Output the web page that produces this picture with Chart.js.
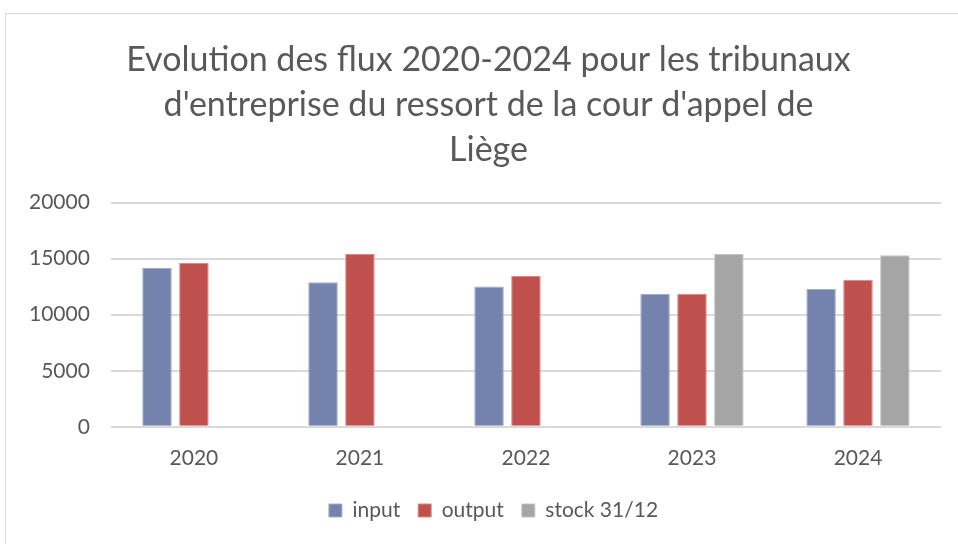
<!DOCTYPE html>
<html>
<head>
<meta charset="utf-8">
<script src="https://cdn.jsdelivr.net/npm/chart.js@4"></script>
<style>
  body { margin: 0; background: #fff; }
  #frame { position: absolute; left: 5px; top: 13px; width: 970px; height: 560px; border: 1px solid #d9d9d9; box-sizing: border-box; }
  #wrap { position: absolute; left: 0; top: 0; width: 958px; height: 544px; }
</style>
</head>
<body>
<div id="frame"></div>
<div id="wrap"><canvas id="fluxChart"></canvas></div>
<script>
const annees = ['2020', '2021', '2022', '2023', '2024'];
const input = [14170, 12890, 12530, 11850, 12300];
const output = [14620, 15420, 13460, 11870, 13130];
const stock = [null, null, null, 15420, 15300];
const titre = [
    'Evolution des flux 2020-2024 pour les tribunaux',
    "d'entreprise du ressort de la cour d'appel de",
    'Liège'
];

const gris = '#595959';
Chart.defaults.font.family = 'Lato, "Open Sans", sans-serif';

function serie(label, data, couleur, bord) {
    return {
        label: label,
        data: data,
        backgroundColor: couleur,
        borderColor: bord,
        borderWidth: 1,
        categoryPercentage: 0.667,
        barPercentage: 0.8
    };
}

// recentre titre et légende sur toute la largeur (comme Excel)
const recentrer = {
    id: 'recentrer',
    afterLayout(chart) {
        if (chart.titleBlock) chart.titleBlock.left += 28;
        if (chart.legend) chart.legend.left += 38;
    }
};

const ctx = document.getElementById('fluxChart').getContext('2d');
new Chart(ctx, {
    type: 'bar',
    data: {
        labels: annees,
        datasets: [
            serie('input', input, '#7483ae', '#a3aeca'),
            serie('output', output, '#c0504d', '#d98a88'),
            serie('stock 31/12', stock, '#a5a5a5', '#c4c4c4')
        ]
    },
    plugins: [recentrer],
    options: {
        responsive: true,
        maintainAspectRatio: false,
        animation: false,
        layout: { padding: { left: 8, right: 17, top: 0, bottom: 13 } },
        plugins: {
            title: {
                display: true,
                text: titre,
                color: gris,
                font: { size: 34, weight: 'normal', lineHeight: 1.33 },
                padding: { top: 37, bottom: 30 }
            },
            legend: {
                position: 'bottom',
                labels: {
                    color: gris,
                    font: { size: 21 },
                    boxWidth: 13,
                    boxHeight: 13,
                    padding: 18
                }
            },
            tooltip: { enabled: false }
        },
        scales: {
            x: {
                grid: { display: false },
                border: { display: false },
                ticks: { color: gris, font: { size: 21 }, padding: 11 }
            },
            y: {
                min: 0,
                max: 20000,
                ticks: {
                    stepSize: 5000,
                    color: gris,
                    font: { size: 21 },
                    padding: 21,
                    callback: v => String(v)
                },
                grid: { color: '#d9d9d9', lineWidth: 2, drawTicks: false },
                border: { display: false }
            }
        }
    }
});
</script>
</body>
</html>
